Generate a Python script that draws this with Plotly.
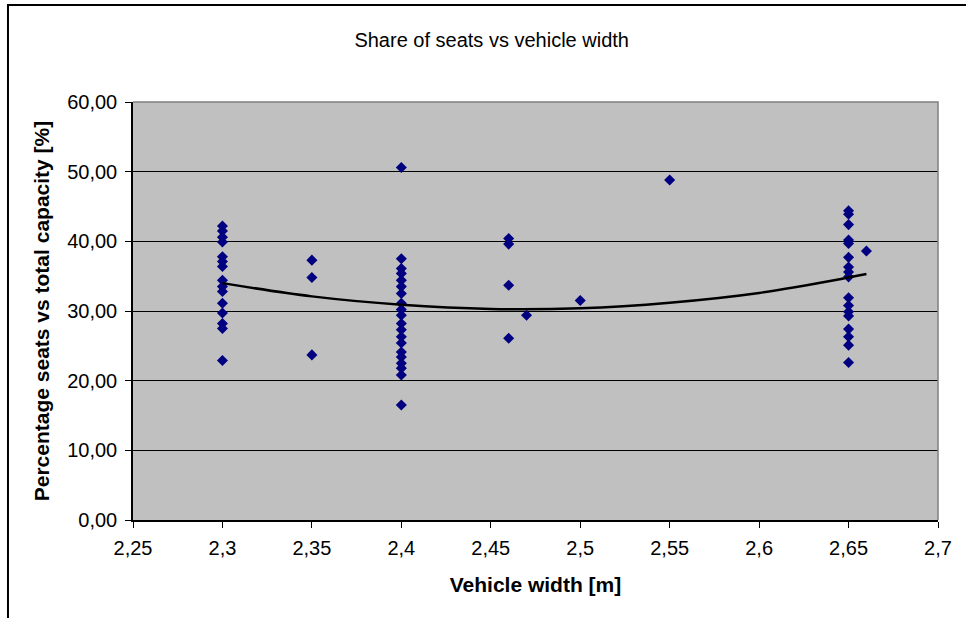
import plotly.graph_objects as go

# vehicle widths [m] and the seat share values measured at each width [%]
widths = [2.30, 2.35, 2.40, 2.46, 2.47, 2.50, 2.55, 2.65, 2.66]
shares = [
    [42.2, 41.5, 40.6, 39.9, 37.8, 37.1, 36.4, 34.4, 33.5, 32.8, 31.1, 29.7, 28.2, 27.5, 22.9],
    [37.3, 34.8, 23.7],
    [50.6, 37.5, 36.1, 35.4, 34.4, 33.5, 32.5, 31.1, 30.2, 29.4, 28.2, 27.3, 26.3, 25.4,
     24.1, 23.4, 22.5, 21.8, 20.8, 16.5],
    [40.4, 39.6, 33.7, 26.1],
    [29.4],
    [31.5],
    [48.8],
    [44.4, 43.9, 42.4, 40.2, 39.7, 37.7, 36.3, 35.6, 34.9, 31.9, 30.8, 29.9, 29.3, 27.4,
     26.3, 25.1, 22.6],
    [38.6],
]

# polynomial trendline as drawn in the original chart
trend_x = [2.30, 2.35, 2.40, 2.45, 2.50, 2.55, 2.60, 2.65, 2.66]
trend_y = [34.0, 32.1, 30.9, 30.3, 30.4, 31.2, 32.6, 34.8, 35.3]

x_ticks = [2.25, 2.3, 2.35, 2.4, 2.45, 2.5, 2.55, 2.6, 2.65, 2.7]

xs, ys = [], []
for w, vals in zip(widths, shares):
    xs += [w] * len(vals)
    ys += vals

fig = go.Figure()
fig.add_trace(go.Scatter(x=xs, y=ys, mode="markers",
                         marker=dict(symbol="diamond", size=8.5, color="#000080")))
fig.add_trace(go.Scatter(x=trend_x, y=trend_y, mode="lines",
                         line=dict(color="black", width=2.5, shape="spline")))

font = "Liberation Sans, Arial, sans-serif"
fig.update_layout(
    width=966, height=618,
    margin=dict(l=133, r=28, t=102, b=98),
    paper_bgcolor="white", plot_bgcolor="#C0C0C0",
    showlegend=False,
    separators=",.",
    font=dict(family=font, size=20, color="black"),
    title=dict(text="Share of seats vs vehicle width", x=0.509, xref="container",
               xanchor="center", y=0.935, yref="container", yanchor="middle",
               font=dict(size=20)),
    xaxis=dict(range=[2.25, 2.7], tickvals=x_ticks, tickformat=".2~f",
               showgrid=False, zeroline=False, showline=True, linecolor="black", linewidth=1.5,
               ticks="outside", ticklen=6, tickcolor="black", ticklabelstandoff=3,
               title=dict(text="<b>Vehicle width [m]</b>", font=dict(size=21), standoff=20)),
    yaxis=dict(range=[0, 60], dtick=10, tickformat=".2f",
               showgrid=True, gridcolor="black", gridwidth=1, zeroline=False,
               showline=True, linecolor="black", linewidth=1.5,
               ticks="outside", ticklen=6, tickcolor="black", ticklabelstandoff=4,
               title=dict(text="<b>Percentage seats vs total capacity [%]</b>",
                          font=dict(size=21), standoff=12)),
    shapes=[
        # grey border on top and right of plot area
        dict(type="path", xref="paper", yref="paper", path="M 0,1 L 1,1 L 1,0",
             line=dict(color="#808080", width=1.5)),
        # outer chart frame (top and left edges visible)
        dict(type="path", xref="paper", yref="paper",
             path="M -0.1553,-0.4 L -0.1553,1.232 L 1.1,1.232",
             line=dict(color="black", width=2)),
    ],
)

# drop the default page margin so the figure sits at the window's top-left corner
fig.write_html("out.html", config={"displayModeBar": False},
               post_script="document.body.style.margin = '0px';")
